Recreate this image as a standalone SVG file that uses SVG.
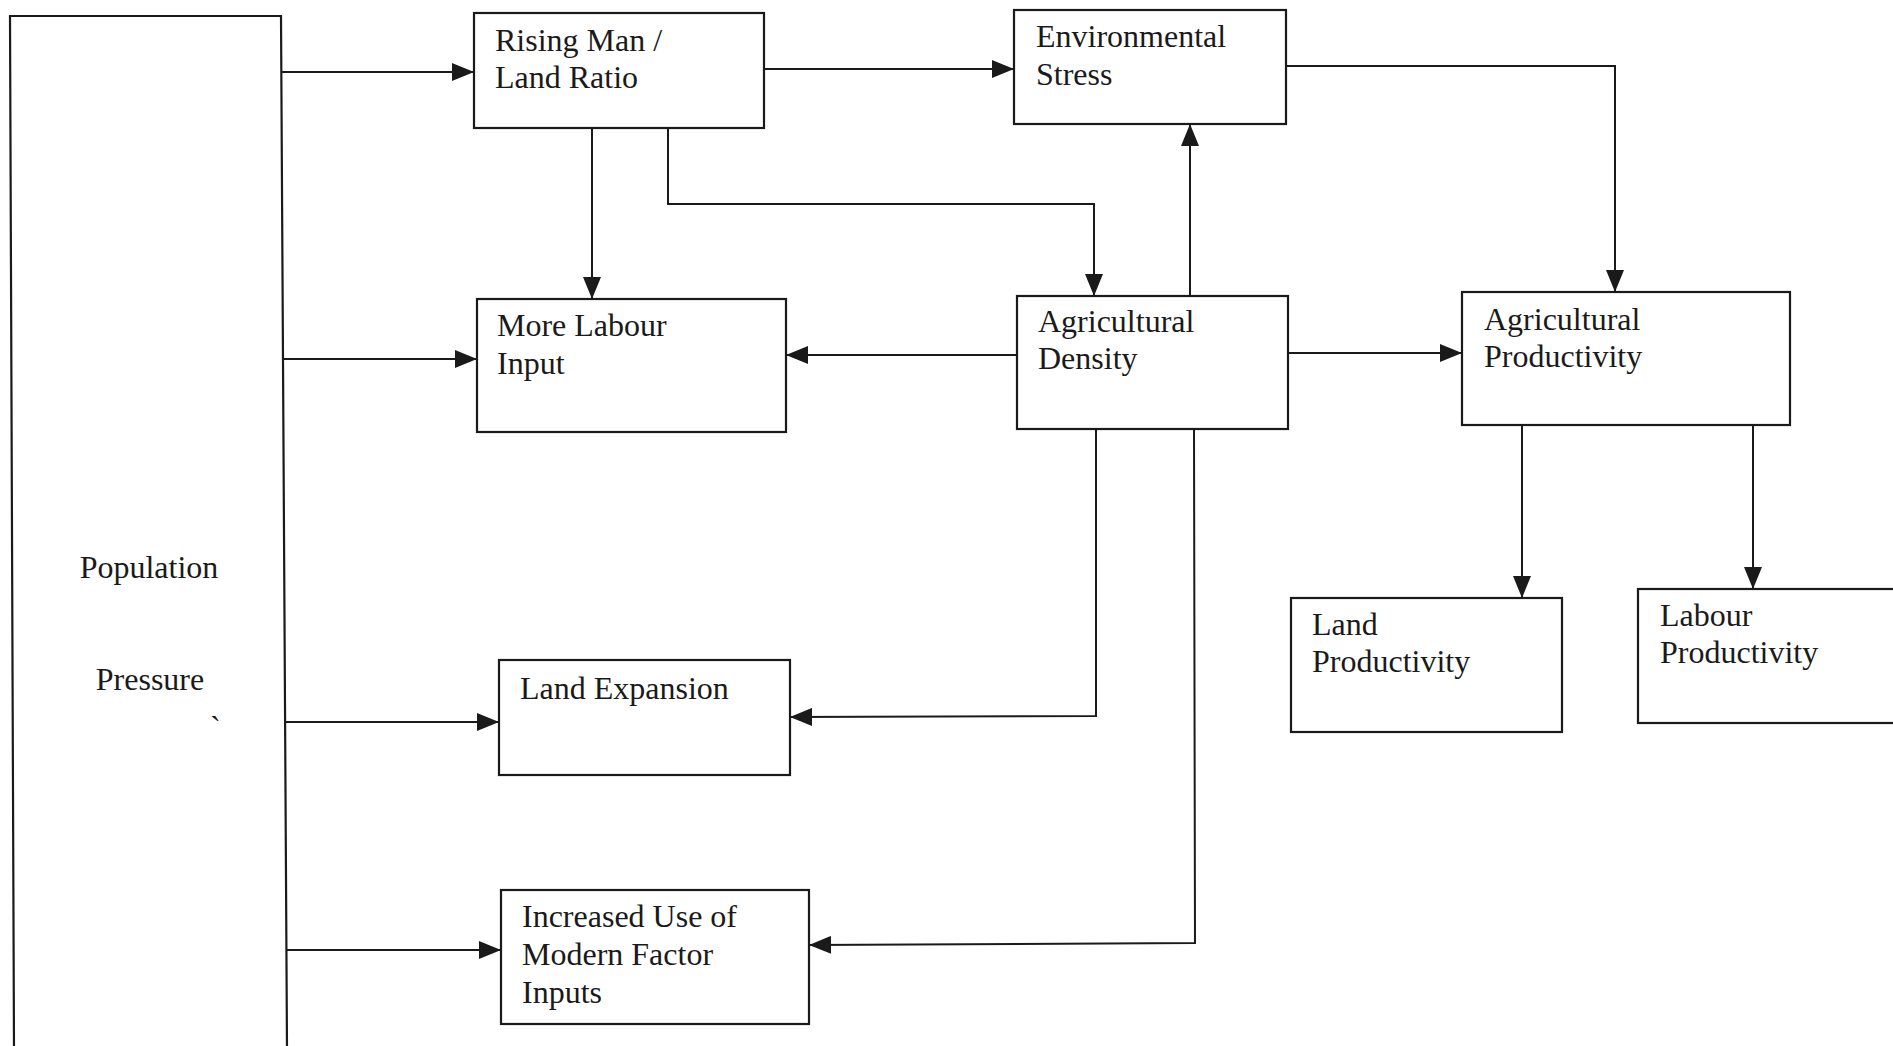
<svg xmlns="http://www.w3.org/2000/svg" width="1893" height="1046" viewBox="0 0 1893 1046">
<style>
.box{fill:#fff;stroke:#1a1a1a;stroke-width:2.2}
.lbl{font-family:"Liberation Serif","Times New Roman",serif;font-size:32px;fill:#1a1a1a}
.c{fill:none;stroke:#1a1a1a;stroke-width:2}
</style>
<defs>
<marker id="ah" markerUnits="userSpaceOnUse" markerWidth="22" markerHeight="18" refX="22" refY="9" orient="auto">
<path d="M0,0 L22,9 L0,18 Z" fill="#1a1a1a"/>
</marker>
</defs>
<rect width="1893" height="1046" fill="#fff"/>
<g id="connectors">
<path class="c" d="M281,72 L474,72" marker-end="url(#ah)"/>
<path class="c" d="M764,69 L1014,69" marker-end="url(#ah)"/>
<path class="c" d="M1286,66 L1615,66 L1615,292" marker-end="url(#ah)"/>
<path class="c" d="M592,128 L592,299" marker-end="url(#ah)"/>
<path class="c" d="M668,128 L668,204 L1094,204 L1094,296" marker-end="url(#ah)"/>
<path class="c" d="M1190,296 L1190,124" marker-end="url(#ah)"/>
<path class="c" d="M1017,355 L786,355" marker-end="url(#ah)"/>
<path class="c" d="M283,359 L477,359" marker-end="url(#ah)"/>
<path class="c" d="M1288,353 L1462,353" marker-end="url(#ah)"/>
<path class="c" d="M1096,429 L1096,716 L790,717" marker-end="url(#ah)"/>
<path class="c" d="M1194,429 L1195,943 L809,945" marker-end="url(#ah)"/>
<path class="c" d="M286,722 L499,722" marker-end="url(#ah)"/>
<path class="c" d="M287,950 L501,950" marker-end="url(#ah)"/>
<path class="c" d="M1522,425 L1522,598" marker-end="url(#ah)"/>
<path class="c" d="M1753,425 L1753,589" marker-end="url(#ah)"/>
</g>
<g id="population-pressure">
<path class="box" d="M10,16 L281,16 L287,1050 L14,1050 Z"/>
<text class="lbl" x="149" y="578" text-anchor="middle">Population</text>
<text class="lbl" x="150" y="690" text-anchor="middle">Pressure</text>
<text class="lbl" x="210" y="738" font-size="20">`</text>
</g>
<g id="rising-man-land-ratio">
<rect class="box" x="474" y="13" width="290" height="115"/>
<text class="lbl" x="495" y="51">Rising Man /</text>
<text class="lbl" x="495" y="88">Land Ratio</text>
</g>
<g id="environmental-stress">
<rect class="box" x="1014" y="10" width="272" height="114"/>
<text class="lbl" x="1036" y="47">Environmental</text>
<text class="lbl" x="1036" y="85">Stress</text>
</g>
<g id="more-labour-input">
<rect class="box" x="477" y="299" width="309" height="133"/>
<text class="lbl" x="497" y="336">More Labour</text>
<text class="lbl" x="497" y="374">Input</text>
</g>
<g id="agricultural-density">
<rect class="box" x="1017" y="296" width="271" height="133"/>
<text class="lbl" x="1038" y="332">Agricultural</text>
<text class="lbl" x="1038" y="369">Density</text>
</g>
<g id="agricultural-productivity">
<rect class="box" x="1462" y="292" width="328" height="133"/>
<text class="lbl" x="1484" y="330">Agricultural</text>
<text class="lbl" x="1484" y="367">Productivity</text>
</g>
<g id="land-expansion">
<rect class="box" x="499" y="660" width="291" height="115"/>
<text class="lbl" x="520" y="699">Land Expansion</text>
</g>
<g id="increased-use">
<rect class="box" x="501" y="890" width="308" height="134"/>
<text class="lbl" x="522" y="927">Increased Use of</text>
<text class="lbl" x="522" y="965">Modern Factor</text>
<text class="lbl" x="522" y="1003">Inputs</text>
</g>
<g id="land-productivity">
<rect class="box" x="1291" y="598" width="271" height="134"/>
<text class="lbl" x="1312" y="635">Land</text>
<text class="lbl" x="1312" y="672">Productivity</text>
</g>
<g id="labour-productivity">
<rect class="box" x="1638" y="589" width="270" height="134"/>
<text class="lbl" x="1660" y="626">Labour</text>
<text class="lbl" x="1660" y="663">Productivity</text>
</g>
</svg>
